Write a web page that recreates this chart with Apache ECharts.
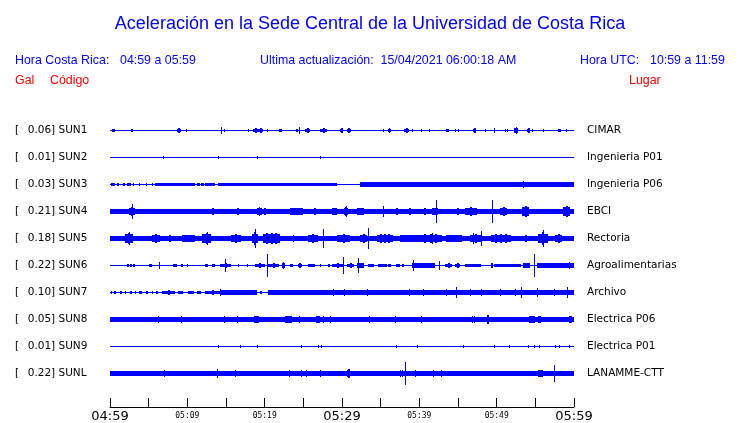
<!DOCTYPE html>
<html>
<head>
<meta charset="utf-8">
<script src="https://cdn.jsdelivr.net/npm/echarts@6/dist/echarts.min.js"></script>
<style>html,body{margin:0;padding:0;background:#fff}#c{width:740px;height:423px}</style>
</head>
<body>
<div id="c"></div>
<script>
// ---- data ----
const codes = ['SUN1','SUN2','SUN3','SUN4','SUN5','SUN6','SUN7','SUN8','SUN9','SUNL'];
const peakGal = [0.06,0.01,0.03,0.21,0.18,0.22,0.10,0.05,0.01,0.22];
const places = ['CIMAR','Ingenieria P01','Ingenieria P06','EBCI','Rectoria','Agroalimentarias','Archivo','Electrica P06','Electrica P01','LANAMME-CTT'];
const timeLabels = ['04:59','05:09','05:19','05:29','05:39','05:49','05:59'];
// background (noise) half-amplitude of each trace, relative units
const baseAmp = [0.5,0.5,0.5,1.8,2.3,0.5,0.5,2,0.5,2];
// sustained wave packets [startMin, endMin, halfAmp]
const seg1 = [[0.3,0.6,1.3],[2.7,3.0,1.3],[8.6,9.2,1.7],[18.5,19.3,2],[19.3,19.6,1.7],[21.8,22.2,1.5],[24.1,24.3,1.2],[25.2,25.9,2],[27.2,28.0,2],[29.7,30.1,1.7],[30.7,31.2,1.7],[36.0,36.3,1.5],[38.0,38.6,2],[43.4,43.8,1.2],[47.0,47.3,2],[52.2,52.8,2.5],[53.9,54.3,2],[57.9,58.3,1.5]];
const seg2 = [];
const seg3 = [[0.1,0.6,1.5],[0.9,1.2,1.5],[1.7,1.9,1.2],[2.2,2.7,1.5],[3.0,3.1,1.2],[3.7,3.8,1.2],[4.7,4.8,1.2],[5.4,5.6,1.2],[5.8,11.0,1.5],[11.3,11.6,1.5],[11.8,12.1,1.5],[12.3,13.6,1.5],[14.0,29.3,1.5],[32.3,60,1.8]];
const seg4 = [[2.4,3.2,4],[5.8,7.3,2.5],[8.2,8.8,2.5],[13.1,13.6,3],[14.9,15.5,2.5],[16.2,17,3],[19.0,19.6,3.5],[19.4,20.7,3],[23.3,25,3.5],[25.9,27.2,3],[28.7,29.3,3.5],[30.2,30.8,4],[31.9,32.8,3.5],[36.6,37.5,3],[38.4,39.2,3],[40.4,41.0,3],[41.6,42.4,3.5],[44.6,45.3,3],[45.9,47.4,4],[50.4,51.3,4],[53.3,54.2,5],[55.4,56.7,2.5],[58.6,59.5,5]];
const seg5 = [[2,3,5],[5.4,6.5,4],[7.5,8,3],[9.3,11,3.5],[11.9,13.1,5.5],[15.7,17,4],[18.3,19.2,6],[19.8,22,5.5],[25.6,26.9,4.5],[29.3,31,4],[32.3,33.2,4.5],[34.5,36.6,4.5],[37.5,40,3.5],[40,42.9,4],[43.4,45.5,3.5],[46.6,48,4],[49.3,51.9,4],[53.2,54.5,3],[55.4,56.7,6],[57.6,58.4,4]];
const seg6 = [[2.2,2.4,1.5],[2.6,2.8,1.5],[3.0,3.2,1.2],[5.0,5.4,1.5],[8.2,8.6,1.5],[9.2,9.4,1.5],[9.9,10.1,1.2],[12.3,12.7,1.5],[13.2,13.6,1.5],[14.2,15.7,2],[16.5,16.7,1.2],[17.7,17.9,1.2],[18.7,20,2],[20.4,21.8,2],[22.2,22.6,2.5],[23.3,23.7,1.5],[24.3,24.8,2],[25.6,26.5,1.5],[27.1,27.3,1.2],[28.2,28.4,1.2],[28.7,30.2,2],[30.6,31.5,2],[32.0,32.8,2.5],[33.4,34.1,1.5],[34.7,35.8,1.5],[36,36.4,1.5],[37,37.5,1.5],[37.8,38,1.2],[39,42,2],[43.3,44.2,2],[44.6,45.3,2],[45.9,48,1.5],[49.3,49.5,2],[49.6,53.2,1.5],[53.4,54.3,2.5],[55.2,60,2]];
const seg7 = [[0.1,0.3,1.5],[0.5,0.8,1.2],[1.3,1.5,1.5],[1.9,2.1,1.2],[2.6,2.9,1.5],[3.2,3.4,1.2],[3.8,4.1,1.5],[4.7,4.9,1.2],[5.4,5.6,1.5],[6.0,6.2,1.2],[6.7,8.4,2],[8.8,9.4,1.5],[10.1,10.8,1.5],[11.2,11.8,1.5],[12.3,14.2,2],[14.4,19,2],[19.4,19.6,1.5],[20.4,40,1.8],[40,60,2.1]];
const seg8 = [[18.6,19.3,3.5],[22.6,23.5,3.5],[26.7,27.2,3.5],[48.7,49,4],[54.2,55,3.5],[55.4,55.7,3.5],[59.3,59.7,3.5]];
const seg9 = [];
const segL = [[30.6,31,4],[55.4,56,3.5]];
// isolated spikes [minute, halfAmp]
const spk1 = [[9.8,1],[14.4,3.5],[14.8,1],[17.9,1],[19.7,1],[20.3,1.2],[24.5,3],[25.5,2.5],[35.3,1],[36.1,2.5],[38.3,2.5],[39.0,1.2],[40.2,1.2],[41.2,1.2],[44.6,1],[45,1],[47.1,2.5],[48.5,1.2],[49.7,2],[51.1,1.2],[51.3,1],[52.5,3],[54.1,2.5],[54.6,1.2],[56,1.2],[59,1.2]];
const spk2 = [[6.8,1.3],[14,1.5],[19,1.2],[27.2,1.5]];
const spk3 = [[53.4,3.5]];
const spk4 = [[2.8,7],[19.3,4.5],[30.5,5.5],[35.3,5.5],[42.1,11],[44.9,3.5],[49.4,11]];
const spk5 = [[2.5,6.5],[12.5,6.5],[18.8,9.5],[23.7,3.5],[27.5,9.5],[33.4,10],[41.7,5],[47,5],[48,7],[56,8]];
const spk6 = [[6.3,3],[14.9,6],[20.3,11],[22.4,3.5],[30.1,8],[32.1,7],[39.2,5],[42.5,4.5],[54.8,11],[59.3,3]];
const spk7 = [[14.2,3],[22.9,2.5],[24.6,2.5],[28.9,3],[30.2,3],[31.7,2.5],[33.2,3],[34.6,2.5],[35.8,2.5],[36.7,2.5],[38.7,3],[40.5,3],[43.4,3],[44.7,5],[46.5,3],[48,3],[50.4,3.5],[52.4,3],[53.1,5.5],[55.2,4],[57.4,3],[59.1,5]];
const spk8 = [[6.2,3],[6.8,2.5],[9.2,3],[9.8,2.5],[14.7,3],[16.4,3],[24.5,3],[27.6,3],[28.5,3],[29.1,2.5],[33.5,3],[35,2.5],[36.8,3],[38.2,2.5],[40.2,3],[41.4,2.5],[43.3,2.5],[46.8,3],[47.1,3],[49.8,2.5],[50.9,2.5],[53.3,2.5],[57.8,2.5],[58.6,2.5]];
const spk9 = [[14,1.5],[16.8,1.2],[19,1.2],[24.7,1.3],[26.9,1.5],[27.3,1.5],[37,1],[39.7,1.5],[45.7,1.2],[49.7,1.2],[51.6,1.2],[54.1,1.2],[54.8,1.5],[55.5,1.5],[57.6,1],[58,1],[59.4,1.5]];
const spkL = [[7,3],[13.8,4.5],[16.1,3],[17.8,2.5],[23.2,3],[24.7,3],[25.3,3],[27.2,3],[37.5,3],[37.8,3],[38.1,11.5],[39.4,3],[39.7,2.5],[41.8,3],[42.8,3],[46.1,2.5],[48.7,2.5],[51.1,2.5],[53.3,2.5],[57.4,8],[58.4,2.5],[59.2,2.5]];

const segments = [seg1,seg2,seg3,seg4,seg5,seg6,seg7,seg8,seg9,segL];
const spikes = [spk1,spk2,spk3,spk4,spk5,spk6,spk7,spk8,spk9,spkL];
const SPAN = 60;      // minutes shown
const SPACING = 27;   // trace offset in amplitude units

// ---- build ----  kind: 0 = background, 1 = packet, 2 = spike
const traceData = [];
for (let i = 0; i < codes.length; i++) {
  traceData.push([0, SPAN, i, baseAmp[i], 0]);
  segments[i].forEach(s => traceData.push([s[0], s[1], i, s[2], 1]));
  spikes[i].forEach(s => traceData.push([s[0], s[0], i, s[1], 2]));
}
const BLUE = '#0000ff';
const RED = '#ff0000';

function vbar(x0, x1, cy, pa) {
  const y0 = Math.floor(cy - pa + 0.001), y1 = Math.ceil(cy + pa - 0.001);
  return { type: 'rect', shape: { x: x0, y: y0, width: x1 - x0, height: Math.max(1, y1 - y0) }, style: { fill: BLUE } };
}

function renderTrace(params, api) {
  const t0 = api.value(0), t1 = api.value(1), i = api.value(2), a = api.value(3), kind = api.value(4);
  const c0 = api.coord([t0, i * SPACING]);
  const c1 = api.coord([t1, i * SPACING]);
  const pa = api.size([0, a])[1];
  const cy = c0[1];
  let x0 = Math.round(c0[0]), x1 = Math.round(c1[0]);
  if (x1 <= x0) x1 = x0 + 1;
  const w = x1 - x0;
  if (kind === 1 && w > 2 && (w < 16 || a >= 3)) {
    // wave packet: dense core plus peak strokes
    const kids = [vbar(x0, x1, cy, pa * 0.75)];
    const n = w < 16 ? 1 : 3;
    for (let k = 1; k <= n; k++) {
      const xm = Math.round(x0 + w * k / (n + 1));
      kids.push(vbar(xm - 1, xm + 1, cy, pa));
    }
    return { type: 'group', children: kids };
  }
  return vbar(x0, x1, cy, pa);
}

const hdr = (text, left, top, color, size, family) => ({
  text, left, top, padding: 0,
  textStyle: { color, fontSize: size, fontWeight: 'normal', fontFamily: family || 'Liberation Sans' }
});

const chart = echarts.init(document.getElementById('c'), null, { renderer: 'canvas' });
chart.setOption({
  animation: false,
  backgroundColor: '#fff',
  title: [
    hdr('Aceleración en la Sede Central de la Universidad de Costa Rica', 'center', 15, BLUE, 18),
    hdr('Hora Costa Rica:', 15, 55, BLUE, 12.4),
    hdr('04:59 a 05:59', 120, 55, BLUE, 12.4),
    hdr('Ultima actualización:  15/04/2021 06:00:18 AM', 260, 55, BLUE, 12.4),
    hdr('Hora UTC:', 580, 55, BLUE, 12.4),
    hdr('10:59 a 11:59', 650, 55, BLUE, 12.4),
    hdr('Gal', 15, 75, RED, 12.4),
    hdr('Código', 50, 75, RED, 12.4),
    hdr('Lugar', 629, 75, RED, 12.4)
  ],
  grid: [
    { left: 110, right: 166, top: 117, height: 270 },
    { left: 110, right: 166, top: 400, height: 9 }
  ],
  xAxis: [
    { type: 'value', gridIndex: 0, min: 0, max: SPAN, show: false },
    { type: 'value', gridIndex: 1, min: 0, max: SPAN, interval: 5,
      axisLine: { show: true, lineStyle: { color: '#000', width: 1 } },
      axisTick: { show: true, inside: true, length: 9, lineStyle: { color: '#000', width: 1 } },
      splitLine: { show: false },
      axisLabel: {
        show: true, margin: 3, color: '#000', showMinLabel: true, showMaxLabel: true, hideOverlap: false,
        formatter: v => {
          if (v % 10 !== 0) return '';
          const s = timeLabels[v / 10];
          return v % 30 === 0 ? '{big|' + s + '}' : '{small|' + s + '}';
        },
        rich: {
          big: { fontFamily: 'DejaVu Sans', fontSize: 13, color: '#000' },
          small: { fontFamily: 'DejaVu Sans Mono', fontSize: 8, color: '#000', padding: [2, 0, 0, 0] }
        }
      }
    }
  ],
  yAxis: [
    { type: 'value', gridIndex: 0, min: -SPACING / 2, max: SPACING * (codes.length - 0.5), inverse: true, show: false },
    { type: 'category', gridIndex: 0, data: codes, inverse: true, position: 'left',
      axisLine: { show: false }, axisTick: { show: false }, splitLine: { show: false },
      axisLabel: {
        interval: 0, align: 'left', margin: 95, color: '#000',
        fontFamily: 'DejaVu Sans', fontSize: 10.5,
        formatter: (v, idx) => '{a|[}{b|' + peakGal[idx].toFixed(2) + '] ' + v + '}',
        rich: {
          a: { width: 12.7, fontFamily: 'DejaVu Sans', fontSize: 10.5, color: '#000' },
          b: { fontFamily: 'DejaVu Sans', fontSize: 10.5, color: '#000' }
        }
      }
    },
    { type: 'category', gridIndex: 0, data: places, inverse: true, position: 'right',
      axisLine: { show: false }, axisTick: { show: false }, splitLine: { show: false },
      axisLabel: { interval: 0, align: 'left', margin: 13, color: '#000', fontFamily: 'DejaVu Sans', fontSize: 10.5 }
    },
    { type: 'value', gridIndex: 1, min: 0, max: 1, show: false }
  ],
  series: [
    { type: 'custom', xAxisIndex: 0, yAxisIndex: 0, renderItem: renderTrace,
      encode: { x: [0, 1], y: 3 }, data: traceData, clip: false, silent: true }
  ]
});
</script>
</body>
</html>
